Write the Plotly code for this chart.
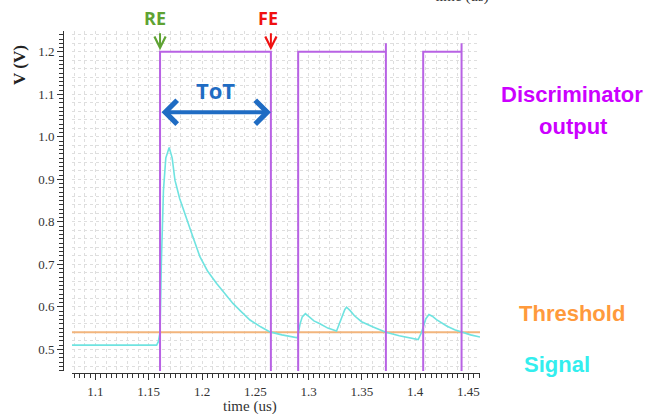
import plotly.graph_objects as go

# Analog signal at the discriminator input (time in us, voltage in V)
signal_t = [1.078, 1.1574, 1.1590, 1.1606, 1.1618, 1.1638, 1.1660, 1.1692, 1.1720, 1.1746,
            1.1790, 1.1850, 1.1900, 1.1980, 1.2050, 1.2137, 1.2200, 1.2290, 1.2370,
            1.2450, 1.2550, 1.2637, 1.2750, 1.2870, 1.2895, 1.2920, 1.2940, 1.2970,
            1.3000, 1.3050, 1.3106, 1.3180, 1.3262, 1.3300, 1.3340, 1.3356, 1.3390,
            1.3430, 1.3497, 1.3600, 1.3725, 1.3850, 1.3950, 1.4028, 1.4060, 1.4100,
            1.4129, 1.4160, 1.4200, 1.4295, 1.4370, 1.4435, 1.4520, 1.4608]
signal_v = [0.510, 0.510, 0.518, 0.540, 0.700, 0.874, 0.950, 0.975, 0.950, 0.898,
            0.855, 0.810, 0.775, 0.718, 0.685, 0.655, 0.635, 0.608, 0.588,
            0.569, 0.553, 0.541, 0.534, 0.528, 0.527, 0.560, 0.576, 0.584,
            0.578, 0.567, 0.560, 0.550, 0.543, 0.570, 0.594, 0.599, 0.591,
            0.579, 0.565, 0.553, 0.540, 0.532, 0.527, 0.523, 0.540, 0.572,
            0.582, 0.578, 0.570, 0.555, 0.546, 0.540, 0.534, 0.529]

# Comparator threshold level
threshold_v = 0.540
time_span = [1.078, 1.4608]

# Discriminator digital output: edges and levels
disc_t = [1.078, 1.1606, 1.1606, 1.2646, 1.2646, 1.2902, 1.2902, 1.3725, 1.3725, 1.3725,
          1.4075, 1.4075, 1.4435, 1.4435, 1.4435, 1.4608]
disc_v = [0.0, 0.0, 1.2, 1.2, 0.0, 0.0, 1.2, 1.2, 1.22, 0.0,
          0.0, 1.2, 1.2, 1.22, 0.0, 0.0]

x_ticks = [1.1, 1.15, 1.2, 1.25, 1.3, 1.35, 1.4, 1.45]
x_tick_text = ["1.1", "1.15", "1.2", "1.25", "1.3", "1.35", "1.4", "1.45"]
y_ticks = [0.5, 0.6, 0.7, 0.8, 0.9, 1.0, 1.1, 1.2]
y_tick_text = ["0.5", "0.6", "0.7", "0.8", "0.9", "1.0", "1.1", "1.2"]

X_RANGE = [1.078, 1.4608]
Y_RANGE = [0.449, 1.249]

W, H = 646, 414
x_dom = [72 / W, 480 / W]
y_dom = [1 - 371 / H, 1 - 31 / H]

SERIF = "Liberation Serif, DejaVu Serif, serif"
ROUND = "Open Sans, Lato, sans-serif"
SANS = "Liberation Sans, Arial, sans-serif"

fig = go.Figure()

fig.add_trace(go.Scatter(x=time_span, y=[threshold_v, threshold_v], mode="lines",
                         line=dict(color="#f2b57c", width=2), hoverinfo="skip"))
fig.add_trace(go.Scatter(x=signal_t, y=signal_v, mode="lines",
                         line=dict(color="#6fe3e0", width=1.6), hoverinfo="skip"))
fig.add_trace(go.Scatter(x=disc_t, y=disc_v, mode="lines",
                         line=dict(color="#b862e4", width=2), hoverinfo="skip"))

grid_major = "#b8b8b8"
grid_minor = "#dedede"

fig.update_layout(
    width=W, height=H,
    margin=dict(l=0, r=0, t=0, b=0),
    paper_bgcolor="white", plot_bgcolor="white",
    showlegend=False,
    xaxis=dict(
        domain=x_dom, range=X_RANGE, anchor="free", position=1 - 373 / H,
        tickvals=x_ticks, ticktext=x_tick_text,
        ticks="outside", ticklen=6, tickwidth=1, tickcolor="#333",
        showline=True, linecolor="#333", linewidth=1,
        showgrid=True, gridcolor=grid_major, griddash="dot", gridwidth=1,
        zeroline=False,
        tickfont=dict(family=SERIF, size=13, color="#333"),
        minor=dict(dtick=0.005, tick0=1.1, ticks="outside", ticklen=4,
                   tickcolor="#333", showgrid=False),
    ),
    xaxis2=dict(
        domain=x_dom, range=X_RANGE, overlaying="x", anchor="y",
        dtick=0.01, tick0=1.1, showticklabels=False, ticks="",
        showgrid=True, gridcolor=grid_minor, griddash="dot", gridwidth=1,
        zeroline=False, showline=False,
    ),
    yaxis=dict(
        domain=y_dom, range=Y_RANGE, anchor="free", position=63 / W,
        tickvals=y_ticks, ticktext=y_tick_text,
        ticks="outside", ticklen=6, tickwidth=1, tickcolor="#333",
        showline=True, linecolor="#333", linewidth=1,
        showgrid=True, gridcolor=grid_major, griddash="dot", gridwidth=1,
        zeroline=False,
        tickfont=dict(family=SERIF, size=13, color="#333"),
        minor=dict(dtick=0.01, tick0=0.5, ticks="outside", ticklen=4,
                   tickcolor="#333", showgrid=False),
    ),
    yaxis2=dict(
        domain=y_dom, range=Y_RANGE, overlaying="y", anchor="x",
        dtick=0.02, tick0=0.5, showticklabels=False, ticks="",
        showgrid=True, gridcolor=grid_minor, griddash="dot", gridwidth=1,
        zeroline=False, showline=False,
    ),
)

# invisible trace to activate the grid-only overlay axes
fig.add_trace(go.Scatter(x=[None], y=[None], xaxis="x2", yaxis="y2", hoverinfo="skip"))

re_t = disc_t[1]
fe_t = disc_t[3]
hi = disc_v[2]


def label(text, px, py, font, **kw):
    """Text centred on a pixel position of the page."""
    return dict(text=text, x=px / W, y=1 - py / H, xref="paper", yref="paper",
                xanchor="center", yanchor="middle", showarrow=False, font=font, **kw)


annotations = [
    # axis titles
    label("time (us)", 250, 406, dict(family=SERIF, size=15, color="#333")),
    label("time (us)", 462, -3, dict(family=SERIF, size=15, color="#333")),
    label("<b>V (V)</b>", 19, 65, dict(family=SERIF, size=17, color="#222"), textangle=-90),
    # edge markers
    dict(text="<b>RE</b>", x=re_t, y=1 - 18 / H, xref="x", yref="paper", xshift=-5,
         xanchor="center", yanchor="middle",
         showarrow=False, font=dict(family=ROUND, size=18, color="#5ea232")),
    dict(text="<b>FE</b>", x=fe_t, y=1 - 18 / H, xref="x", yref="paper", xshift=-3,
         xanchor="center", yanchor="middle",
         showarrow=False, font=dict(family=ROUND, size=18, color="#f01010")),
    dict(text="", x=re_t, y=hi + 0.004, ax=re_t, ay=1.247, xref="x", yref="y",
         axref="x", ayref="y", showarrow=True, arrowhead=5, arrowsize=1.1,
         arrowwidth=2, arrowcolor="#5ea232", standoff=0),
    dict(text="", x=fe_t, y=hi + 0.004, ax=fe_t, ay=1.247, xref="x", yref="y",
         axref="x", ayref="y", showarrow=True, arrowhead=5, arrowsize=1.1,
         arrowwidth=2, arrowcolor="#f01010", standoff=0),
    # time over threshold
    dict(text="", x=fe_t, y=1.058, ax=re_t, ay=1.058, xref="x", yref="y",
         axref="x", ayref="y", showarrow=True, arrowhead=4, arrowside="end+start",
         arrowsize=1.15, arrowwidth=4, arrowcolor="#1f6cc3", standoff=0, startstandoff=0),
    dict(text="<b>ToT</b>", x=(re_t + fe_t) / 2, y=1.11, xref="x", yref="y",
         xanchor="center", yanchor="middle",
         showarrow=False, font=dict(family=ROUND, size=22, color="#1f6cc3")),
    # trace labels
    label("<b>Discriminator</b>", 572, 94, dict(family=SANS, size=22, color="#cc00ff")),
    label("<b>output</b>", 573, 126, dict(family=SANS, size=22, color="#cc00ff")),
    label("<b>Threshold</b>", 572, 313, dict(family=SANS, size=22, color="#ff9a3c")),
    label("<b>Signal</b>", 557, 364, dict(family=SANS, size=22, color="#33eeee")),
]
fig.update_layout(annotations=annotations)

fig.write_html("out.html")
